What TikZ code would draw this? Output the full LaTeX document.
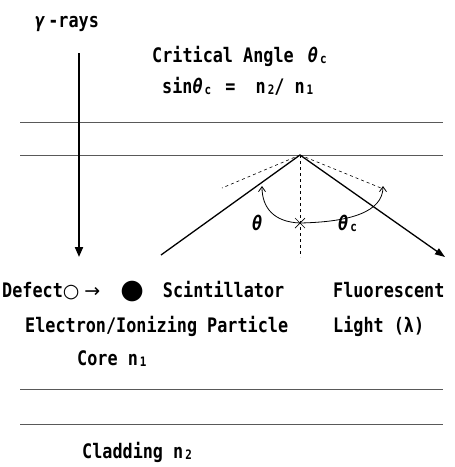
\documentclass[tikz,border=0pt]{standalone}
\usepackage{fontspec}
\usetikzlibrary{arrows.meta}
\newfontfamily\mf[FakeStretch=0.84]{DejaVu Sans Mono}
\newfontfamily\symf{DejaVu Sans}
\newcommand{\subs}[1]{\kern2pt\raisebox{-1.5pt}{\fontsize{13}{13}\selectfont #1}}
\newcommand{\thet}{{\itshape\symbol{"03B8}}}
\tikzset{
  lbl/.style={inner sep=0pt, anchor=base west, font=\mf\bfseries\fontsize{20}{20}\selectfont},
  wall/.style={line width=0.9pt, gray!70!black},
  ray/.style={line width=1.3pt},
  dsh/.style={line width=0.6pt, dash pattern=on 3pt off 3pt},
  arcl/.style={line width=0.8pt, -{Straight Barb[length=5pt,width=7pt]}}
}
\begin{document}
\begin{tikzpicture}[x=1pt,y=-1pt]
\useasboundingbox (0,0) rectangle (455,467);
% walls
\coordinate (w1a) at (20,122); \coordinate (w1b) at (443,122);
\coordinate (w2a) at (20,155); \coordinate (w2b) at (443,155);
\coordinate (w3a) at (20,389); \coordinate (w3b) at (443,389);
\coordinate (w4a) at (20,424); \coordinate (w4b) at (443,424);
\draw[wall] (w1a) -- (w1b);
\draw[wall] (w2a) -- (w2b);
\draw[wall] (w3a) -- (w3b);
\draw[wall] (w4a) -- (w4b);
% gamma arrow
\coordinate (g1) at (79,53); \coordinate (g2) at (79,257);
\draw[line width=2pt, -{Triangle[length=10pt,width=8pt]}] (g1) -- (g2);
% rays
\coordinate (P) at (300,155);
\coordinate (L) at (161,255);
\coordinate (R) at (445,257);
\draw[ray] (L) -- (P);
\draw[ray, -{Triangle[length=10pt,width=7pt]}] (P) -- (R);
% dashed
\coordinate (dl) at (222,188); \coordinate (dr) at (381,188); \coordinate (dv) at (300,257);
\draw[dsh] (P) -- (dl);
\draw[dsh] (P) -- (dr);
\draw[dsh] (P) -- (dv);
% arc
\coordinate (X) at (300,223);
\coordinate (al) at (262,186); \coordinate (ar) at (383,186);
\draw[arcl] (X) .. controls (274,222) and (262,208) .. (al);
\draw[arcl] (X) .. controls (350,222) and (383,212) .. (ar);
\draw[line width=0.7pt] (295,218) -- (305,228) (295,228) -- (305,218);
% labels
\node[lbl] (gam) at (35,27) {{\itshape\symbol{"03B3}}\kern3pt-rays};
\node[lbl] (crit) at (152,62) {Critical Angle\ \kern4pt\thet\subs{c}};
\node[lbl] (sin) at (162,93) {sin\thet\subs{c}\kern4pt\ =\ \ n\subs{2}/ n\subs{1}};
\node[lbl] (th) at (252,230) {\thet};
\node[lbl] (thc) at (338,230) {\thet\subs{c}};
\node[lbl] (def) at (2,297) {Defect{\symf\mdseries\fontsize{19}{19}\selectfont ○\hspace{5pt}→\hspace{20pt}{\fontsize{27}{27}\selectfont\raisebox{-1.5pt}{●}}}\hspace{19pt}Scintillator};
\node[lbl] (flu) at (333,297) {Fluorescent};
\node[lbl] (ele) at (25,332) {Electron/Ionizing Particle};
\node[lbl] (lig) at (333,332) {Light ({\symbol{"03BB}})};
\node[lbl] (core) at (77,365) {Core\ n\subs{1}};
\node[lbl] (clad) at (82,458) {Cladding\ n\subs{2}};
\end{tikzpicture}
\end{document}
